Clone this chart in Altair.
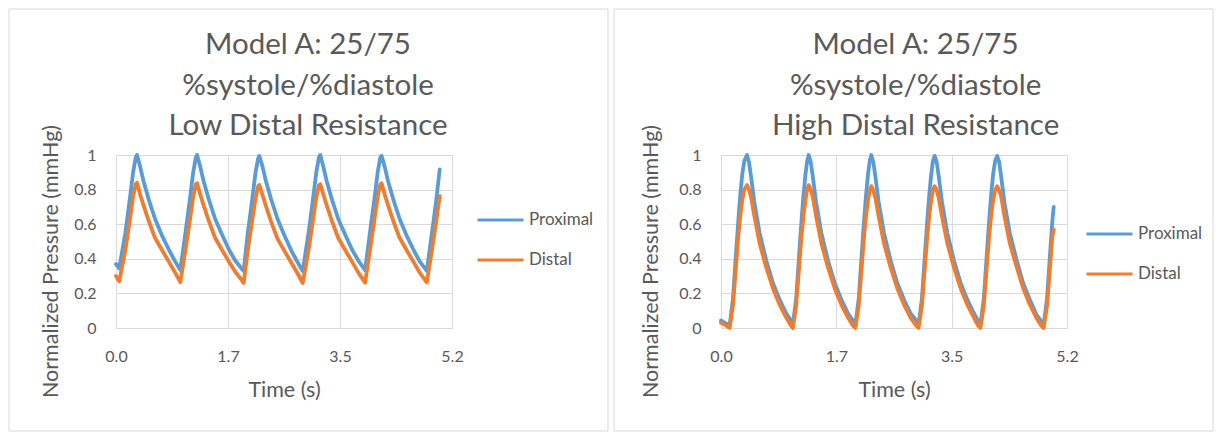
import altair as alt
import pandas as pd

# ---------------- data ----------------
series = ["Proximal", "Distal"]
colors = ["#5B9BD5", "#ED7D31"]
x_ticks = [0.0, 1.7333, 3.4667, 5.2]
y_ticks = [0.0, 0.2, 0.4, 0.6, 0.8, 1.0]

left_title = ["Model A: 25/75", "%systole/%diastole", "Low Distal Resistance"]
right_title = ["Model A: 25/75", "%systole/%diastole", "High Distal Resistance"]

left_t = [0.00, 0.05,
          0.145, 0.205, 0.265, 0.305, 0.325, 0.375, 0.425, 0.505, 0.605, 0.705, 0.815, 0.915, 0.995,
          1.075, 1.135, 1.195, 1.235, 1.254, 1.305, 1.355, 1.435, 1.535, 1.635, 1.745, 1.845, 1.930, 1.975,
          2.040, 2.100, 2.160, 2.200, 2.218, 2.270, 2.320, 2.400, 2.500, 2.600, 2.710, 2.810, 2.890,
          2.980, 3.040, 3.100, 3.140, 3.162, 3.210, 3.260, 3.340, 3.440, 3.540, 3.650, 3.750, 3.855,
          3.930, 3.990, 4.050, 4.090, 4.110, 4.160, 4.210, 4.290, 4.390, 4.490, 4.600, 4.700, 4.810,
          4.890, 4.950, 5.010]
left_prox = [0.370, 0.345,
             0.55, 0.72, 0.90, 0.985, 1.0, 0.93, 0.85, 0.745, 0.63, 0.54, 0.455, 0.385, 0.335,
             0.55, 0.72, 0.90, 0.985, 1.0, 0.93, 0.85, 0.745, 0.63, 0.545, 0.455, 0.39, 0.35, 0.33,
             0.55, 0.72, 0.90, 0.98, 0.995, 0.93, 0.85, 0.745, 0.63, 0.54, 0.45, 0.38, 0.33,
             0.55, 0.72, 0.90, 0.985, 1.0, 0.93, 0.85, 0.745, 0.63, 0.545, 0.455, 0.39, 0.335,
             0.55, 0.72, 0.90, 0.985, 0.995, 0.93, 0.85, 0.745, 0.63, 0.54, 0.455, 0.385, 0.33,
             0.55, 0.72, 0.917]
left_dist = [0.300, 0.270,
             0.45, 0.60, 0.76, 0.83, 0.84, 0.77, 0.71, 0.62, 0.52, 0.455, 0.385, 0.32, 0.265,
             0.45, 0.60, 0.76, 0.83, 0.837, 0.77, 0.71, 0.62, 0.52, 0.455, 0.385, 0.325, 0.285, 0.26,
             0.45, 0.60, 0.75, 0.82, 0.827, 0.765, 0.705, 0.615, 0.515, 0.45, 0.38, 0.315, 0.26,
             0.45, 0.60, 0.755, 0.825, 0.831, 0.77, 0.71, 0.62, 0.52, 0.455, 0.385, 0.32, 0.262,
             0.45, 0.60, 0.76, 0.83, 0.837, 0.77, 0.71, 0.62, 0.52, 0.455, 0.385, 0.32, 0.263,
             0.45, 0.60, 0.763]

right_t = [0.00, 0.06, 0.13,
           0.18, 0.22, 0.26, 0.29, 0.32, 0.35, 0.39, 0.42, 0.45, 0.50, 0.58, 0.68, 0.78, 0.88, 0.98, 1.05, 1.08,
           1.13, 1.17, 1.21, 1.24, 1.27, 1.295, 1.318, 1.348, 1.378, 1.428, 1.508, 1.608, 1.708, 1.808, 1.908, 1.98, 2.02,
           2.07, 2.11, 2.15, 2.18, 2.21, 2.235, 2.259, 2.289, 2.319, 2.369, 2.449, 2.549, 2.649, 2.749, 2.849, 2.93, 2.97,
           3.02, 3.06, 3.10, 3.13, 3.16, 3.185, 3.211, 3.241, 3.271, 3.321, 3.401, 3.501, 3.601, 3.701, 3.801, 3.86, 3.90,
           3.95, 3.99, 4.03, 4.06, 4.09, 4.12, 4.15, 4.18, 4.21, 4.26, 4.34, 4.44, 4.54, 4.64, 4.74, 4.81, 4.85,
           4.90, 4.94, 4.98, 5.00]
right_prox = [0.044, 0.030, 0.015,
              0.17, 0.40, 0.62, 0.77, 0.89, 0.965, 1.0, 0.96, 0.88, 0.73, 0.55, 0.39, 0.26, 0.165, 0.085, 0.045, 0.02,
              0.17, 0.40, 0.62, 0.77, 0.89, 0.965, 1.0, 0.96, 0.88, 0.73, 0.55, 0.39, 0.26, 0.165, 0.085, 0.045, 0.02,
              0.17, 0.40, 0.62, 0.77, 0.89, 0.965, 1.0, 0.96, 0.88, 0.73, 0.55, 0.39, 0.26, 0.165, 0.085, 0.045, 0.02,
              0.17, 0.40, 0.62, 0.77, 0.89, 0.965, 0.995, 0.96, 0.88, 0.73, 0.55, 0.39, 0.26, 0.165, 0.085, 0.045, 0.02,
              0.17, 0.40, 0.62, 0.77, 0.89, 0.965, 0.995, 0.96, 0.877, 0.724, 0.55, 0.396, 0.26, 0.165, 0.078, 0.04, 0.02,
              0.17, 0.40, 0.62, 0.70]
right_dist = [0.030, 0.018, 0.0,
              0.13, 0.33, 0.53, 0.65, 0.74, 0.80, 0.826, 0.80, 0.76, 0.65, 0.49, 0.35, 0.23, 0.135, 0.06, 0.015, 0.0,
              0.13, 0.33, 0.53, 0.65, 0.74, 0.80, 0.826, 0.80, 0.76, 0.65, 0.49, 0.35, 0.23, 0.135, 0.06, 0.015, 0.0,
              0.13, 0.33, 0.53, 0.65, 0.74, 0.795, 0.82, 0.795, 0.755, 0.645, 0.49, 0.35, 0.23, 0.135, 0.06, 0.015, 0.0,
              0.13, 0.33, 0.53, 0.65, 0.74, 0.795, 0.82, 0.795, 0.755, 0.645, 0.49, 0.35, 0.23, 0.135, 0.06, 0.015, 0.0,
              0.13, 0.33, 0.53, 0.65, 0.74, 0.795, 0.82, 0.795, 0.762, 0.646, 0.49, 0.357, 0.232, 0.136, 0.059, 0.014, 0.0,
              0.13, 0.33, 0.53, 0.57]

FONT = "Lato"
GRAY = "#595959"
FRAME = "#d9d9d9"


def panel(t, prox, dist, width, title_lines, title_x, legend_x, legend_y, ytitle_x):
    n = len(t)
    df = pd.DataFrame({"t": t + t, "p": prox + dist,
                       "s": [series[0]] * n + [series[1]] * n})
    one = pd.DataFrame({"a": [0]})

    x = alt.X("t:Q", scale=alt.Scale(domain=[0, 5.2], nice=False, zero=False),
              axis=alt.Axis(values=x_ticks, format=".1f", title="Time (s)", labelFlush=False,
                            labelPadding=20, titlePadding=15))
    y = alt.Y("p:Q", scale=alt.Scale(domain=[0, 1], nice=False),
              axis=alt.Axis(values=y_ticks, format="~g", title="Normalized Pressure (mmHg)",
                            labelPadding=20, titleX=ytitle_x, titleY=106,
                            titleAlign="center", titleBaseline="middle", titleAngle=270))
    color = alt.Color("s:N", scale=alt.Scale(domain=series, range=colors),
                      legend=alt.Legend(title=None, orient="none", legendX=legend_x, legendY=legend_y,
                                        symbolType="stroke", symbolSize=2116, symbolStrokeWidth=3,
                                        labelFont=FONT, labelFontSize=17, labelColor=GRAY,
                                        labelOffset=4, clipHeight=20, rowPadding=20, padding=0))

    frame = alt.Chart(one).mark_rect(fill="white", fillOpacity=0, stroke=FRAME, strokeWidth=1).encode(
        x=alt.value(-107), x2=alt.value(492), y=alt.value(-146), y2=alt.value(276))

    lines = []
    for s in series:
        lines.append(
            alt.Chart(df).transform_filter(alt.datum.s == s)
            .mark_line(strokeWidth=3.8, strokeJoin="round", strokeCap="round")
            .encode(x=x, y=y, color=color, order="t:Q"))

    title = alt.Chart(one).mark_text(text=title_lines, font=FONT, fontSize=29.5, color=GRAY,
                                     lineHeight=40.5, align="center", baseline="middle").encode(
        x=alt.value(title_x), y=alt.value(-110))

    return alt.layer(frame, *lines, title).properties(width=width, height=173)


left = panel(left_t, left_prox, left_dist, 336, left_title, 192.0, 360.0, 55.0, -64.5)
right = panel(right_t, right_prox, right_dist, 346, right_title, 194.6, 364.0, 69.0, -69.5)

chart = (alt.hconcat(left, right, spacing=4)
         .resolve_scale(color="independent")
         .resolve_legend(color="independent")
         .properties(padding=0, background="white")
         .configure_view(stroke=FRAME)
         .configure_axis(grid=True, gridColor=FRAME, gridWidth=1, domain=False, ticks=False, tickSize=0,
                         labelColor=GRAY, titleColor=GRAY, labelFont=FONT, titleFont=FONT,
                         labelFontSize=16, titleFontSize=21.5, titleFontWeight="normal"))

chart.save("out.html", embed_options={"renderer": "svg", "actions": False})
